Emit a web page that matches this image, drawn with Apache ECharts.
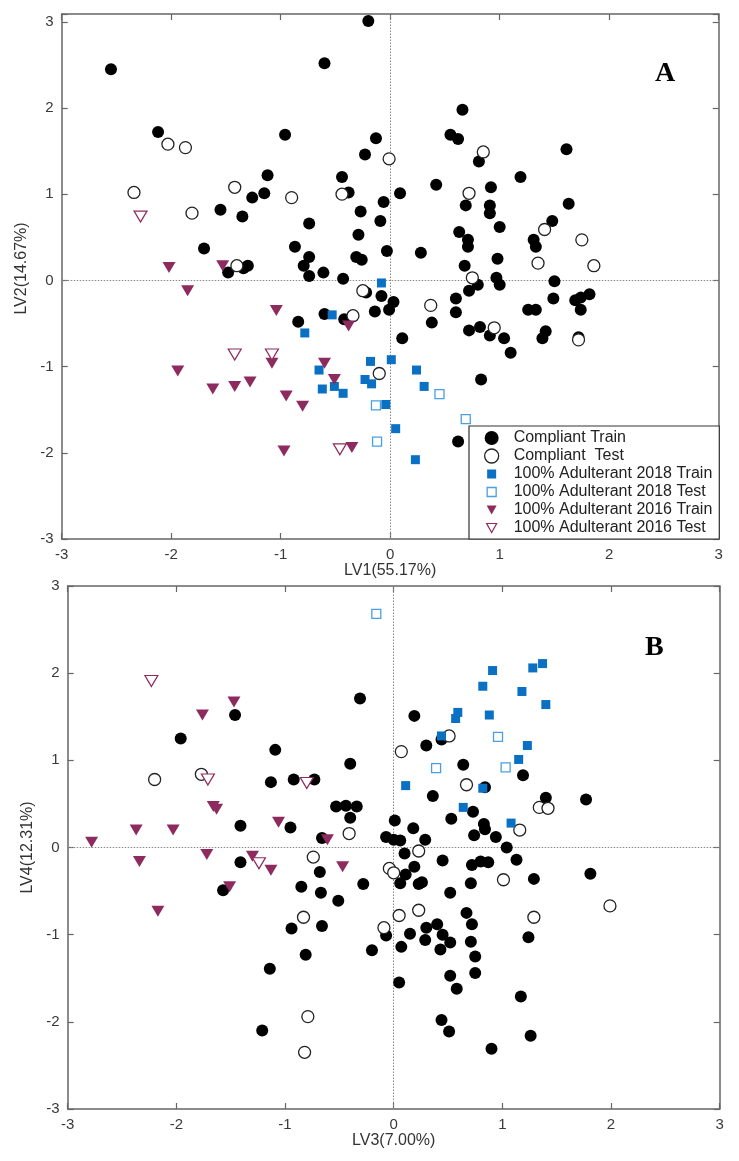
<!DOCTYPE html>
<html>
<head>
<meta charset="utf-8">
<title>PLS-DA scores</title>
<script src="https://cdn.jsdelivr.net/npm/echarts@6/dist/echarts.min.js"></script>
<style>
  html, body { margin: 0; padding: 0; background: #fff; }
  #chart { width: 739px; height: 1161px; }
</style>
</head>
<body>
<div id="chart"></div>
<script>
// ---- data: [x, y] ----
// panel A : LV1 vs LV2
const aCompliantTrain = [
  [-2.55, 2.45], [-2.12, 1.72], [-0.96, 1.69], [-0.60, 2.52], [-0.20, 3.01], [-1.12, 1.22],
  [-1.15, 1.01], [-1.26, 0.96], [-1.55, 0.82], [-1.35, 0.74], [-1.70, 0.37], [-1.48, 0.09],
  [-1.34, 0.14], [-1.30, 0.17], [-0.87, 0.39], [-0.74, 0.66], [-0.74, 0.27], [-0.79, 0.17],
  [-0.74, 0.05], [-0.61, 0.09], [-0.43, 0.02], [-0.44, 1.20], [-0.38, 1.02], [-0.27, 0.80],
  [-0.29, 0.53], [-0.31, 0.27], [-0.26, 0.24], [-0.23, 1.46], [-0.13, 1.65], [0.66, 1.98],
  [0.55, 1.69], [0.62, 1.64], [0.81, 1.38], [1.61, 1.52], [0.42, 1.11], [0.09, 1.01],
  [1.19, 1.20], [0.92, 1.08], [0.69, 0.87], [0.91, 0.87], [0.91, 0.78], [1.63, 0.89],
  [1.00, 0.62], [1.48, 0.69], [1.31, 0.47], [1.33, 0.39], [0.63, 0.56], [0.71, 0.47],
  [0.71, 0.39], [0.28, 0.32], [-0.03, 0.34], [-0.09, 0.69], [-0.06, 0.91], [0.68, 0.17],
  [0.98, 0.25], [0.97, 0.03], [1.00, -0.05], [0.80, -0.05], [0.72, -0.12], [1.50, -0.01],
  [1.82, -0.16], [1.74, -0.20], [1.69, -0.23], [0.60, -0.21], [-0.08, -0.18], [0.03, -0.25],
  [1.49, -0.21], [-0.22, -0.14], [-0.01, -0.34], [-0.14, -0.36], [-0.60, -0.39], [-0.84, -0.48],
  [-0.42, -0.45], [0.11, -0.67], [0.38, -0.49], [0.60, -0.37], [0.72, -0.58], [0.82, -0.54],
  [0.91, -0.64], [1.04, -0.67], [1.10, -0.84], [0.83, -1.15], [1.26, -0.34], [1.33, -0.34],
  [1.42, -0.59], [1.39, -0.67], [1.74, -0.34], [1.72, -0.66], [0.62, -1.87]
];
const aCompliantTest = [
  [-2.34, 1.02], [-2.03, 1.58], [-1.87, 1.54], [-1.81, 0.78], [-1.42, 1.08], [-0.90, 0.96],
  [-0.44, 1.00], [-1.40, 0.17], [-0.25, -0.12], [-0.01, 1.41], [0.85, 1.49], [0.72, 1.01],
  [1.41, 0.59], [1.75, 0.47], [1.35, 0.20], [1.86, 0.17], [0.75, 0.03], [0.37, -0.29],
  [0.95, -0.55], [1.72, -0.69], [-0.10, -1.08], [-0.34, -0.41]
];
const aAdult2018Train = [
  [-0.08, -0.03], [-0.53, -0.40], [-0.78, -0.61], [-0.18, -0.94], [0.01, -0.92], [-0.65, -1.04],
  [-0.23, -1.15], [-0.17, -1.20], [-0.62, -1.26], [-0.51, -1.23], [-0.43, -1.31], [0.24, -1.04],
  [0.31, -1.23], [-0.04, -1.44], [0.05, -1.72], [0.23, -2.08]
];
const aAdult2018Test = [[0.45, -1.32], [-0.13, -1.45], [0.69, -1.61], [-0.12, -1.87]];
const aAdult2016Train = [
  [-2.02, 0.15], [-1.53, 0.17], [-1.85, -0.12], [-1.04, -0.35], [-1.94, -1.05], [-1.62, -1.26],
  [-1.42, -1.23], [-1.28, -1.18], [-1.08, -0.96], [-0.95, -1.34], [-0.80, -1.46], [-0.60, -0.96],
  [-0.51, -1.15], [-0.38, -0.53], [-0.97, -1.98], [-0.35, -1.94]
];
const aAdult2016Test = [[-2.28, 0.74], [-1.42, -0.86], [-1.08, -0.86], [-0.46, -1.96]];

// panel B : LV3 vs LV4
const bCompliantTrain = [
  [-1.96, 1.25], [-1.46, 1.52], [-1.09, 1.12], [-1.13, 0.75], [-0.92, 0.78], [-0.73, 0.78],
  [-0.40, 0.96], [-0.31, 1.71], [-1.41, 0.25], [-0.95, 0.23], [-0.53, 0.47], [-0.44, 0.48],
  [-0.34, 0.47], [-0.40, 0.34], [-0.66, 0.11], [-1.41, -0.17], [-0.68, -0.28],
  [-1.57, -0.49], [-0.85, -0.45], [-0.67, -0.52], [-0.51, -0.61], [-0.28, -0.42], [-0.94, -0.93],
  [-0.66, -0.90], [-0.81, -1.23], [-1.14, -1.39], [-0.20, -1.18], [-1.21, -2.10],
  [0.19, 1.51], [0.30, 1.17], [0.44, 1.24], [0.64, 0.95], [1.19, 0.83], [0.84, 0.69],
  [0.36, 0.59], [1.40, 0.57], [1.77, 0.55], [0.73, 0.41], [0.53, 0.33], [0.01, 0.31],
  [0.18, 0.22], [0.83, 0.27], [0.84, 0.21], [-0.07, 0.12], [0.00, 0.09], [0.06, 0.08],
  [0.29, 0.09], [0.74, 0.14], [0.94, 0.12], [1.04, 0.00], [0.10, -0.07], [0.45, -0.15],
  [0.72, -0.20], [0.80, -0.16], [0.87, -0.17], [1.13, -0.14], [0.19, -0.22], [1.81, -0.30],
  [0.11, -0.31], [0.06, -0.41], [0.23, -0.42], [0.26, -0.40], [0.71, -0.41], [0.52, -0.52],
  [1.29, -0.36], [0.67, -0.75], [0.72, -0.88], [0.40, -0.88], [0.30, -0.92], [0.45, -1.00],
  [0.15, -0.99], [-0.07, -1.01], [0.29, -1.06], [0.52, -1.09], [0.71, -1.08], [0.43, -1.17],
  [0.07, -1.14], [1.24, -1.03], [0.75, -1.25], [0.75, -1.44], [0.52, -1.47], [0.05, -1.55],
  [0.58, -1.62], [1.17, -1.71], [0.44, -1.98], [0.51, -2.11], [1.26, -2.16], [0.90, -2.31]
];
const bCompliantTest = [
  [-2.20, 0.78], [-1.77, 0.84], [-0.41, 0.16], [-0.74, -0.11], [-0.83, -0.80], [-0.79, -1.94],
  [-0.82, -2.35], [0.07, 1.10], [0.51, 1.28], [0.67, 0.72], [1.34, 0.46], [1.42, 0.45],
  [1.16, 0.20], [0.23, -0.04], [-0.04, -0.24], [0.00, -0.29], [1.01, -0.37], [1.99, -0.67],
  [0.05, -0.78], [0.23, -0.72], [-0.09, -0.92], [1.29, -0.80]
];
const bAdult2018Train = [
  [0.91, 2.03], [1.28, 2.06], [1.37, 2.11], [0.82, 1.85], [1.18, 1.79], [1.40, 1.64],
  [0.59, 1.55], [0.57, 1.48], [0.88, 1.52], [0.44, 1.28], [1.23, 1.17], [1.15, 1.01],
  [0.11, 0.71], [0.82, 0.68], [0.64, 0.46], [1.08, 0.28]
];
const bAdult2018Test = [[-0.16, 2.68], [0.96, 1.27], [0.39, 0.91], [1.03, 0.92]];
const bAdult2016Train = [
  [-2.78, 0.06], [-2.37, 0.20], [-2.34, -0.16], [-2.03, 0.20], [-1.76, 1.52], [-1.47, 1.67],
  [-1.66, 0.47], [-1.63, 0.44], [-1.72, -0.08], [-1.06, 0.29], [-1.30, -0.10], [-1.13, -0.26],
  [-0.61, 0.09], [-0.47, -0.22], [-2.17, -0.73], [-1.51, -0.45]
];
const bAdult2016Test = [[-2.23, 1.91], [-1.71, 0.78], [-0.80, 0.74], [-1.24, -0.18]];

const groupNames = [
  'Compliant Train',
  'Compliant  Test',
  '100% Adulterant 2018 Train',
  '100% Adulterant 2018 Test',
  '100% Adulterant 2016 Train',
  '100% Adulterant 2016 Test'
];
const axisNames = ['LV1(55.17%)', 'LV2(14.67%)', 'LV3(7.00%)', 'LV4(12.31%)'];

// ---- styles ----
const FONT = '"Liberation Sans", Arial, sans-serif';
const FRAME = '#666';
const BLUE = '#0a70c4';
const BLUE_LIGHT = '#4a9fe2';
const PLUM = '#8e2b5e';

const styles = [
  { symbol: 'circle', symbolSize: 12, itemStyle: { color: '#000', opacity: 1 } },
  { symbol: 'circle', symbolSize: 12, itemStyle: { color: '#fff', borderColor: '#222', borderWidth: 1.3, opacity: 1 } },
  { symbol: 'rect', symbolSize: 9, itemStyle: { color: BLUE, opacity: 1 } },
  { symbol: 'rect', symbolSize: 9, itemStyle: { color: '#fff', borderColor: BLUE_LIGHT, borderWidth: 1.3, opacity: 1 } },
  { symbol: 'triangle', symbolSize: [13, 11], symbolRotate: 180, itemStyle: { color: PLUM, opacity: 1 } },
  { symbol: 'triangle', symbolSize: [13, 11], symbolRotate: 180, itemStyle: { color: '#fff', borderColor: PLUM, borderWidth: 1.2, opacity: 1 } }
];
const legendIcons = [
  'circle',
  'circle',
  'path://M0,0M14,14M2.5,2.5h9v9h-9z',
  'path://M0,0M14,14M2.5,2.5h9v9h-9z',
  'path://M0,0M14,14M2,2.5h10l-5,9z',
  'path://M0,0M14,14M2,2.5h10l-5,9z'
];

function intLabel(v) {
  return Math.abs(v - Math.round(v)) < 1e-6 ? String(Math.round(v)) : '';
}

function mainAxis(gridIndex, name, pos, min, max, nameGap, namePad) {
  return {
    gridIndex: gridIndex,
    type: 'value',
    position: pos,
    min: min, max: max, interval: 1,
    name: name,
    nameLocation: 'middle',
    nameGap: nameGap,
    nameTextStyle: { fontFamily: FONT, fontSize: 16, color: '#333', padding: namePad || 0 },
    axisLine: { show: true, onZero: false, lineStyle: { color: FRAME, width: 1.5 } },
    axisTick: { show: true, inside: true, length: 6, lineStyle: { color: FRAME, width: 1.2 } },
    axisLabel: { show: true, margin: 8, fontFamily: FONT, fontSize: 15, color: '#3a3a3a', formatter: intLabel },
    splitLine: { show: false }
  };
}
function mirrorAxis(gridIndex, pos, min, max) {
  return {
    gridIndex: gridIndex,
    type: 'value',
    position: pos,
    min: min, max: max, interval: 1,
    axisLine: { show: true, onZero: false, lineStyle: { color: FRAME, width: 1.5 } },
    axisTick: { show: true, inside: true, length: 6, lineStyle: { color: FRAME, width: 1.2 } },
    axisLabel: { show: false },
    splitLine: { show: false }
  };
}

const zeroLines = (xi, yi) => ({
  type: 'scatter', xAxisIndex: xi, yAxisIndex: yi, data: [], silent: true, z: 1,
  markLine: {
    silent: true, z: 1, symbol: ['none', 'none'], animation: false,
    label: { show: false },
    lineStyle: { color: '#8a8a8a', width: 1, type: [1.5, 1.5] },
    emphasis: { disabled: true },
    data: [{ xAxis: 0 }, { yAxis: 0 }]
  }
});

const panelA = [aCompliantTrain, aCompliantTest, aAdult2018Train, aAdult2018Test, aAdult2016Train, aAdult2016Test];
const panelB = [bCompliantTrain, bCompliantTest, bAdult2018Train, bAdult2018Test, bAdult2016Train, bAdult2016Test];

const series = [zeroLines(0, 0), zeroLines(2, 2)];
panelA.forEach((d, i) => series.push(Object.assign({
  type: 'scatter', name: groupNames[i], xAxisIndex: 0, yAxisIndex: 0, data: d, z: 2 + i, silent: true
}, styles[i])));
panelB.forEach((d, i) => series.push(Object.assign({
  type: 'scatter', name: groupNames[i], xAxisIndex: 2, yAxisIndex: 2, data: d, z: 2 + i, silent: true
}, styles[i])));

const option = {
  animation: false,
  backgroundColor: '#fff',
  grid: [
    { left: 61.7, right: 20.3, top: 14, bottom: 622, outerBoundsMode: 'none' },
    { left: 67.7, right: 19.3, top: 586, bottom: 52, outerBoundsMode: 'none' }
  ],
  xAxis: [
    mainAxis(0, axisNames[0], 'bottom', -3, 3, 22),
    mirrorAxis(0, 'top', -3, 3),
    mainAxis(1, axisNames[2], 'bottom', -3, 3, 24),
    mirrorAxis(1, 'top', -3, 3)
  ],
  yAxis: [
    mainAxis(0, axisNames[1], 'left', -3, 3.09, 25, [0, 0, 0, 16]),
    mirrorAxis(0, 'right', -3, 3.09),
    mainAxis(1, axisNames[3], 'left', -3, 3, 29),
    mirrorAxis(1, 'right', -3, 3)
  ],
  legend: {
    orient: 'vertical',
    left: 469, top: 426,
    padding: [4, 7, 3, 15],
    itemGap: 2,
    itemWidth: 34,
    itemHeight: 14,
    selectedMode: false,
    backgroundColor: '#fff',
    borderColor: '#333',
    borderWidth: 1.2,
    borderRadius: 0,
    textStyle: { fontFamily: FONT, fontSize: 16, color: '#222' },
    data: groupNames.map((n, i) => ({
      name: n,
      icon: legendIcons[i],
      itemStyle: styles[i].itemStyle
    }))
  },
  graphic: [
    { type: 'text', left: 655, top: 60, style: { text: 'A', font: 'bold 28px "Liberation Serif", "Times New Roman", serif', fill: '#000' } },
    { type: 'text', left: 645, top: 634, style: { text: 'B', font: 'bold 28px "Liberation Serif", "Times New Roman", serif', fill: '#000' } }
  ],
  series: series
};

const chart = echarts.init(document.getElementById('chart'), null, { renderer: 'canvas' });
chart.setOption(option);
</script>
</body>
</html>
